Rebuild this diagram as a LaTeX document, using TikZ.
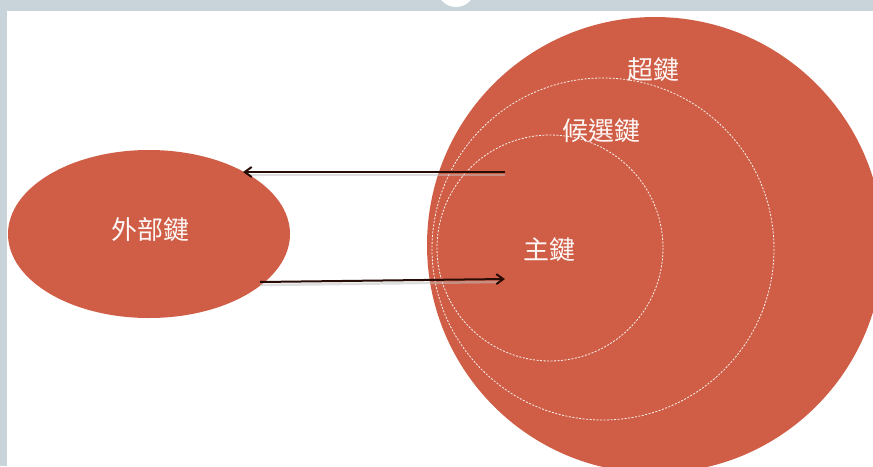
\documentclass[tikz,border=0pt]{standalone}
\usepackage{fontspec}
\newfontfamily\cjk{Noto Sans CJK TC}
\usetikzlibrary{arrows.meta,shapes.geometric}
\definecolor{keyred}{RGB}{208,94,70}
\definecolor{framegray}{RGB}{200,211,218}
\definecolor{arrowdark}{RGB}{40,12,6}
\tikzset{
  keyfill/.style={fill=keyred, draw=none},
  dashring/.style={draw=white!92!keyred, line width=0.8pt, dash pattern=on 2pt off 1.5pt},
  keylabel/.style={text=white!95!keyred, font=\cjk\fontsize{26}{26}\selectfont, inner sep=0pt},
  arrowline/.style={draw=arrowdark, line width=2pt, -{Straight Barb[length=7pt,width=10pt]}},
  arrowshadow/.style={draw=black!25, line width=2.5pt, opacity=0.5}
}
\begin{document}
\begin{tikzpicture}[x=1pt,y=-1pt]
\useasboundingbox (0,0) rectangle (873,466);
% frame
\fill[white] (0,0) rectangle (873,466);
\fill[framegray] (0,0) rectangle (873,11);
\fill[framegray] (0,0) rectangle (7,466);
\fill[white] (456,-12) circle (19);
% big circle and rings
\fill[keyfill] (655,245) circle (228);
\draw[dashring] (603,249) circle (171);
\draw[dashring] (550,248) circle (113);
% ellipse
\node[keyfill, ellipse, minimum width=282pt, minimum height=168pt, inner sep=0pt] (fk) at (149,234) {};
\node[keylabel] (fklabel) at (150,230) {外部鍵};
\node[keylabel] (pk) at (549,250) {主鍵};
\node[keylabel] (ck) at (601,131) {候選鍵};
\node[keylabel] (sk) at (653,70) {超鍵};
% arrow endpoints
\coordinate (topstart) at (505,172);
\coordinate (topend) at (243,172);
\coordinate (botstart) at (260,282);
\coordinate (botend) at (505,279);
\draw[arrowshadow] ([yshift=-3pt]topstart) -- ([yshift=-3pt,xshift=6pt]topend);
\draw[arrowshadow] ([yshift=-3pt]botstart) -- ([yshift=-3pt,xshift=-6pt]botend);
\draw[arrowline] (topstart) -- (topend);
\draw[arrowline] (botstart) -- (botend);
\end{tikzpicture}
\end{document}
